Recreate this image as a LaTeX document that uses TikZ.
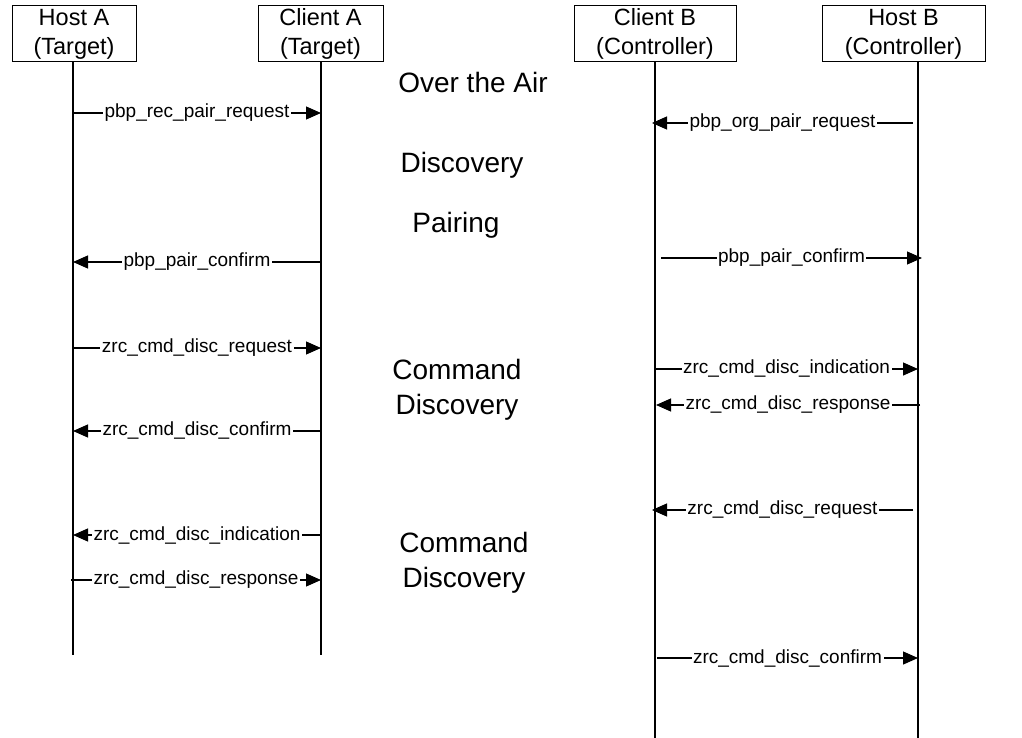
\documentclass[tikz,border=0pt]{standalone}
\usepackage{fontspec}
\setmainfont{Liberation Sans}
\usepackage{tikz}
\usetikzlibrary{arrows.meta,positioning,calc}

\begin{document}
\begin{tikzpicture}[
    x=1pt, y=-1pt,
    head/.style={draw, line width=1pt, minimum height=56pt, align=center, inner sep=0pt, font=\fontsize{23.5}{29}\selectfont},
    life/.style={line width=1.6pt},
    msg/.style={-{Triangle[length=15pt, width=13pt]}, line width=1.2pt},
    lbl/.style={fill=white, inner xsep=1.5pt, inner ysep=0pt, font=\fontsize{19}{22}\selectfont},
    phase/.style={align=center, font=\fontsize{28}{35}\selectfont},
  ]
  \useasboundingbox (0,0) rectangle (1022,738);

  % heads of the lifelines
  \node[head, minimum width=124pt] (ha) at (74,34) {Host A\\(Target)};
  \node[head, minimum width=125pt] (ca) at (320.5,34) {Client A\\(Target)};
  \node[head, minimum width=162pt] (cb) at (655,34) {Client B\\(Controller)};
  \node[head, minimum width=163pt] (hb) at (903.5,34) {Host B\\(Controller)};

  % lifelines
  \coordinate (lha) at (73,62);
  \coordinate (lca) at (321,62);
  \coordinate (lcb) at (655,62);
  \coordinate (lhb) at (918,62);
  \draw[life] (lha) -- (lha |- 0,655);
  \draw[life] (lca) -- (lca |- 0,655);
  \draw[life] (lcb) -- (lcb |- 0,738);
  \draw[life] (lhb) -- (lhb |- 0,738);

  % phases
  \node[phase] (air) at (473,82) {Over the Air};
  \node[phase] (disc) at (462,165) {Discovery};
  \node[phase] (pair) at (456,225) {Pairing};
  \node[phase] (cmd1) at (457,390) {Command\\Discovery};
  \node[phase] (cmd2) at (464,563) {Command\\Discovery};

  % target side
  \draw[msg] (lha |- 0,113) -- node[lbl] {pbp\_rec\_pair\_request} (lca |- 0,113);
  \draw[msg] (lca |- 0,262) -- node[lbl] {pbp\_pair\_confirm} (lha |- 0,262);
  \draw[msg] (lha |- 0,348) -- node[lbl] {zrc\_cmd\_disc\_request} (lca |- 0,348);
  \draw[msg] (lca |- 0,431) -- node[lbl] {zrc\_cmd\_disc\_confirm} (lha |- 0,431);
  \draw[msg] (lca |- 0,535) -- node[lbl] {zrc\_cmd\_disc\_indication} (lha |- 0,535);
  \draw[msg] ($(lha |- 0,580)+(-2,0)$) -- node[lbl] {zrc\_cmd\_disc\_response} (lca |- 0,580);

  % controller side
  \draw[msg] ($(lhb |- 0,123)+(-5,0)$) -- node[lbl] {pbp\_org\_pair\_request} ($(lcb |- 0,123)+(-3,0)$);
  \draw[msg] ($(lcb |- 0,258)+(6,0)$) -- node[lbl] {pbp\_pair\_confirm} ($(lhb |- 0,258)+(4,0)$);
  \draw[msg] (lcb |- 0,369) -- node[lbl] {zrc\_cmd\_disc\_indication} (lhb |- 0,369);
  \draw[msg] ($(lhb |- 0,405)+(2,0)$) -- node[lbl] {zrc\_cmd\_disc\_response} ($(lcb |- 0,405)+(1,0)$);
  \draw[msg] ($(lhb |- 0,510)+(-5,0)$) -- node[lbl] {zrc\_cmd\_disc\_request} ($(lcb |- 0,510)+(-3,0)$);
  \draw[msg] ($(lcb |- 0,658)+(2,0)$) -- node[lbl] {zrc\_cmd\_disc\_confirm} (lhb |- 0,658);
\end{tikzpicture}
\end{document}
